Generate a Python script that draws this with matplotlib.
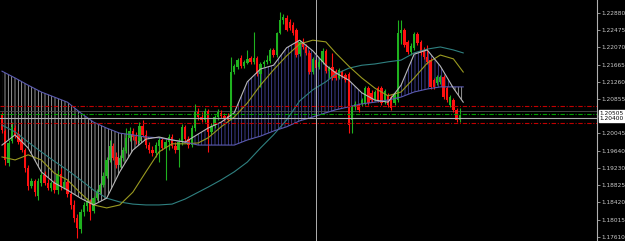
import numpy as np
import matplotlib.pyplot as plt

# EURUSD-style candles, one entry per bar
opens = [1.2048, 1.2010, 1.1935, 1.1987, 1.2017, 1.2003, 1.1987, 1.1965, 1.1923, 1.1881,
         1.1892, 1.1857, 1.1888, 1.1907, 1.1888, 1.1876, 1.1888, 1.1871, 1.1909, 1.1878,
         1.1890, 1.1862, 1.1836, 1.1805, 1.1779, 1.1819, 1.1833, 1.1845, 1.1822, 1.1852,
         1.1866, 1.1883, 1.1904, 1.1942, 1.1975, 1.1949, 1.1930, 1.1947, 1.1963, 1.1994,
         1.2010, 1.1996, 1.1987, 1.2022, 1.2001, 1.1977, 1.1965, 1.1958, 1.1975, 1.1989,
         1.1970, 1.1984, 1.1996, 1.1975, 1.1965, 1.1984, 1.2020, 1.1991, 1.1977, 1.2017,
         1.2055, 1.2043, 1.2036, 1.2057, 1.2008, 1.2022, 1.2043, 1.2053, 1.2046, 1.2046,
         1.2038, 1.2149, 1.2161, 1.2182, 1.2163, 1.2170, 1.2182, 1.2173, 1.2182, 1.2144,
         1.2168, 1.2173, 1.2175, 1.2201, 1.2189, 1.2241, 1.2272, 1.2276, 1.2267, 1.2260,
         1.2248, 1.2191, 1.2220, 1.2208, 1.2194, 1.2149, 1.2177, 1.2161, 1.2173, 1.2199,
         1.2151, 1.2161, 1.2151, 1.2135, 1.2149, 1.2142, 1.2144, 1.2036, 1.2067, 1.2071,
         1.2074, 1.2076, 1.2111, 1.2100, 1.2085, 1.2111, 1.2111, 1.2078, 1.2095, 1.2090,
         1.2076, 1.2083, 1.2241, 1.2248, 1.2220, 1.2196, 1.2206, 1.2239, 1.2220, 1.2201,
         1.2184, 1.2177, 1.2130, 1.2123, 1.2126, 1.2137, 1.2111, 1.2071, 1.2083, 1.2060,
         1.2036]
highs = [1.2055, 1.2015, 1.1989, 1.2031, 1.2024, 1.2010, 1.1994, 1.1970, 1.1930, 1.1899,
         1.1897, 1.1899, 1.1914, 1.1916, 1.1897, 1.1892, 1.1895, 1.1918, 1.1923, 1.1897,
         1.1895, 1.1866, 1.1848, 1.1815, 1.1826, 1.1843, 1.1852, 1.1850, 1.1857, 1.1873,
         1.1888, 1.1914, 1.1949, 1.1989, 1.1982, 1.1961, 1.1954, 1.1972, 1.2017, 1.2020,
         1.2017, 1.2008, 1.2031, 1.2036, 1.2012, 1.1984, 1.1975, 1.1984, 1.1996, 1.1994,
         1.1991, 1.2003, 1.2003, 1.1984, 1.1994, 1.2027, 1.2024, 1.1998, 1.2024, 1.2074,
         1.2064, 1.2055, 1.2064, 1.2062, 1.2029, 1.2048, 1.2062, 1.2060, 1.2053, 1.2053,
         1.2184, 1.2168, 1.2182, 1.2189, 1.2177, 1.2201, 1.2187, 1.2243, 1.2187, 1.2173,
         1.2177, 1.2189, 1.2206, 1.2206, 1.2243, 1.2290, 1.2286, 1.2283, 1.2274, 1.2267,
         1.2253, 1.2224, 1.2229, 1.2215, 1.2201, 1.2184, 1.2182, 1.2182, 1.2206, 1.2203,
         1.2163, 1.2194, 1.2156, 1.2158, 1.2154, 1.2147, 1.2149, 1.2071, 1.2081, 1.2076,
         1.2088, 1.2116, 1.2116, 1.2107, 1.2107, 1.2116, 1.2116, 1.2109, 1.2100, 1.2095,
         1.2102, 1.2272, 1.2272, 1.2253, 1.2224, 1.2217, 1.2243, 1.2243, 1.2224, 1.2208,
         1.2213, 1.2182, 1.2135, 1.2142, 1.2142, 1.2142, 1.2116, 1.2095, 1.2088, 1.2064,
         1.2064]
lows = [1.2005, 1.1930, 1.1928, 1.1982, 1.1994, 1.1980, 1.1961, 1.1914, 1.1871, 1.1876,
        1.1857, 1.1848, 1.1881, 1.1883, 1.1871, 1.1869, 1.1864, 1.1862, 1.1871, 1.1873,
        1.1855, 1.1826, 1.1796, 1.1758, 1.1770, 1.1810, 1.1822, 1.1801, 1.1817, 1.1848,
        1.1862, 1.1878, 1.1899, 1.1937, 1.1942, 1.1923, 1.1925, 1.1939, 1.1958, 1.1987,
        1.1989, 1.1980, 1.1982, 1.1996, 1.1970, 1.1958, 1.1951, 1.1949, 1.1937, 1.1965,
        1.1895, 1.1965, 1.1970, 1.1958, 1.1925, 1.1977, 1.1984, 1.1970, 1.1972, 1.2010,
        1.2036, 1.2031, 1.2031, 1.1961, 1.2003, 1.2017, 1.2036, 1.2041, 1.2034, 1.2034,
        1.2036, 1.2144, 1.2156, 1.2158, 1.2158, 1.2168, 1.2168, 1.2168, 1.2140, 1.2114,
        1.2161, 1.2168, 1.2170, 1.2184, 1.2184, 1.2239, 1.2262, 1.2246, 1.2248, 1.2236,
        1.2184, 1.2187, 1.2203, 1.2189, 1.2144, 1.2144, 1.2154, 1.2156, 1.2168, 1.2147,
        1.2135, 1.2130, 1.2130, 1.2133, 1.2135, 1.2126, 1.2005, 1.2005, 1.2060, 1.2055,
        1.2069, 1.2071, 1.2071, 1.2078, 1.2081, 1.2078, 1.2071, 1.2074, 1.2067, 1.2060,
        1.2071, 1.2078, 1.2215, 1.2208, 1.2191, 1.2189, 1.2201, 1.2213, 1.2189, 1.2180,
        1.2168, 1.2109, 1.2109, 1.2118, 1.2121, 1.2085, 1.2078, 1.2067, 1.2055, 1.2031,
        1.2031]
closes = [1.2012, 1.1942, 1.1982, 1.2020, 1.2001, 1.1984, 1.1965, 1.1923, 1.1881, 1.1892,
          1.1866, 1.1892, 1.1907, 1.1888, 1.1876, 1.1888, 1.1871, 1.1909, 1.1878, 1.1890,
          1.1862, 1.1836, 1.1805, 1.1782, 1.1819, 1.1836, 1.1845, 1.1819, 1.1852, 1.1866,
          1.1883, 1.1904, 1.1942, 1.1975, 1.1947, 1.1930, 1.1947, 1.1965, 1.1994, 1.2010,
          1.1996, 1.1987, 1.2022, 1.2001, 1.1977, 1.1965, 1.1958, 1.1977, 1.1989, 1.1970,
          1.1984, 1.1996, 1.1975, 1.1965, 1.1984, 1.2020, 1.1991, 1.1977, 1.2017, 1.2055,
          1.2043, 1.2036, 1.2057, 1.2008, 1.2022, 1.2043, 1.2055, 1.2046, 1.2038, 1.2036,
          1.2149, 1.2163, 1.2177, 1.2163, 1.2173, 1.2180, 1.2173, 1.2182, 1.2144, 1.2168,
          1.2173, 1.2177, 1.2201, 1.2189, 1.2241, 1.2272, 1.2279, 1.2248, 1.2253, 1.2241,
          1.2189, 1.2220, 1.2208, 1.2194, 1.2149, 1.2180, 1.2158, 1.2173, 1.2199, 1.2151,
          1.2158, 1.2135, 1.2135, 1.2154, 1.2137, 1.2130, 1.2024, 1.2067, 1.2074, 1.2060,
          1.2083, 1.2111, 1.2076, 1.2083, 1.2102, 1.2083, 1.2076, 1.2104, 1.2071, 1.2064,
          1.2097, 1.2241, 1.2248, 1.2213, 1.2196, 1.2210, 1.2239, 1.2217, 1.2194, 1.2184,
          1.2173, 1.2114, 1.2114, 1.2137, 1.2137, 1.2090, 1.2083, 1.2090, 1.2060, 1.2036,
          1.2048]

# indicator lines, sampled at these bars
line_bars = [0, 4, 8, 12, 16, 20, 24, 28, 32, 36, 40, 44, 48, 52, 56, 60, 63, 67, 71, 75,
             79, 83, 87, 91, 95, 99, 102, 106, 110, 114, 118, 122, 126, 130, 134, 138, 141]
span_b = [1.2151, 1.2135, 1.2118, 1.2102, 1.2090, 1.2078, 1.2053, 1.2031, 1.2017, 1.2005,
          1.2001, 1.1996, 1.1994, 1.1989, 1.1984, 1.1977, 1.1977, 1.1977, 1.1977, 1.1989,
          1.1998, 1.2010, 1.2020, 1.2034, 1.2043, 1.2053, 1.2060, 1.2067, 1.2074, 1.2078,
          1.2083, 1.2090, 1.2102, 1.2109, 1.2114, 1.2114, 1.2114]
fast_ma = [1.1977, 1.2001, 1.1970, 1.1914, 1.1888, 1.1871, 1.1852, 1.1836, 1.1852, 1.1914,
           1.1965, 1.1991, 1.1996, 1.1989, 1.1984, 1.2003, 1.2017, 1.2031, 1.2053, 1.2126,
           1.2156, 1.2165, 1.2206, 1.2224, 1.2199, 1.2165, 1.2147, 1.2130, 1.2100, 1.2083,
           1.2078, 1.2118, 1.2191, 1.2201, 1.2163, 1.2111, 1.2078]
mid_ma = [1.1949, 1.1942, 1.1954, 1.1942, 1.1911, 1.1895, 1.1864, 1.1836, 1.1829, 1.1836,
          1.1866, 1.1914, 1.1961, 1.1980, 1.1980, 1.1982, 1.1994, 1.2020, 1.2043, 1.2076,
          1.2118, 1.2154, 1.2187, 1.2215, 1.2224, 1.2220, 1.2194, 1.2163, 1.2135, 1.2111,
          1.2093, 1.2102, 1.2135, 1.2170, 1.2189, 1.2180, 1.2149]
slow_ma = [1.2024, 1.2008, 1.1984, 1.1961, 1.1939, 1.1918, 1.1895, 1.1871, 1.1852, 1.1843,
           1.1838, 1.1836, 1.1836, 1.1838, 1.1850, 1.1866, 1.1878, 1.1895, 1.1914, 1.1937,
           1.1970, 1.2001, 1.2036, 1.2081, 1.2107, 1.2126, 1.2144, 1.2158, 1.2165, 1.2168,
           1.2173, 1.2177, 1.2194, 1.2203, 1.2208, 1.2201, 1.2194]

# horizontal levels and price axis
red_levels = [1.2070, 1.2028]
green_level = 1.20505
bid_level = 1.20400
faint_level = 1.2057
vline_bar = 96
price_ticks = [1.22880, 1.22475, 1.22070, 1.21665, 1.21260, 1.20855, 1.20045,
               1.19640, 1.19230, 1.18825, 1.18420, 1.18015, 1.17610]

plt.rcParams["hatch.linewidth"] = 0.55

fig = plt.figure(figsize=(6.25, 2.41), dpi=100, facecolor="black")
ax = fig.add_axes([0, 0, 597 / 625, 1])
ax.set_facecolor("black")

o = np.array(opens)
h = np.array(highs)
l = np.array(lows)
c = np.array(closes)
idx = np.arange(len(o))

lx = np.array(line_bars)
sb = np.array(span_b)
fm = np.array(fast_ma)

# cloud hatching between the two lines
ax.fill_between(lx, sb, fm, where=sb >= fm, interpolate=True, facecolor="none",
                edgecolor="#bdbdbd", hatch="|||||", linewidth=0, zorder=1)
ax.fill_between(lx, sb, fm, where=sb < fm, interpolate=True, facecolor="none",
                edgecolor="#4a4aa8", hatch="|||||", linewidth=0, zorder=1)

# candles
up = c >= o
cols = np.where(up, "#1fb21f", "#ff1010")
ax.vlines(idx, l, h, colors=cols, linewidth=0.8, zorder=3)
body = np.maximum(np.abs(c - o), 0.00006)
ax.bar(idx, body, bottom=np.minimum(o, c), width=0.72, color=cols, linewidth=0, zorder=3)

# indicator lines
ax.plot(lx, slow_ma, color="#2f8080", lw=0.8, zorder=4)
ax.plot(lx, mid_ma, color="#9a9a20", lw=0.8, zorder=4)
ax.plot(lx, span_b, color="#5a5ab0", lw=0.8, zorder=4)
ax.plot(lx, fast_ma, color="#b8b8b8", lw=0.8, zorder=4)

# levels
for lv in red_levels:
    ax.axhline(lv, color="#c00000", lw=0.8, ls=(0, (4, 1.5, 1, 1.5)), zorder=5)
ax.axhline(green_level, color="#00a000", lw=0.8, ls=(0, (4, 1.5, 1, 1.5)), zorder=5)
ax.axhline(faint_level, color="#505050", lw=0.6, zorder=2)
ax.axhline(bid_level, color="#b0b0b0", lw=0.8, zorder=5)
ax.axvline(vline_bar, color="#b0b0b0", lw=0.7, zorder=5)

ax.set_xlim(-0.61, 181.9)
ax.set_ylim(1.17511, 1.23186)
ax.set_xticks([])
ax.yaxis.tick_right()
ax.set_yticks(price_ticks)
ax.set_yticklabels([f"{v:.5f}" for v in price_ticks])
ax.tick_params(axis="y", colors="#c8c8c8", labelsize=4.2, length=2, width=0.5, pad=1.5)
for side in ["top", "bottom", "left"]:
    ax.spines[side].set_visible(False)
ax.spines["right"].set_color("#b0b0b0")
ax.spines["right"].set_linewidth(0.8)

# price boxes on the axis
for lv in [green_level, bid_level]:
    ax.text(1.004, lv, f"{lv:.5f}", transform=ax.get_yaxis_transform(), fontsize=4.2,
            color="black", va="center", ha="left",
            bbox=dict(boxstyle="square,pad=0.15", facecolor="white", edgecolor="white"))

fig.savefig("out.png", dpi=100, facecolor="black")
plt.close(fig)
